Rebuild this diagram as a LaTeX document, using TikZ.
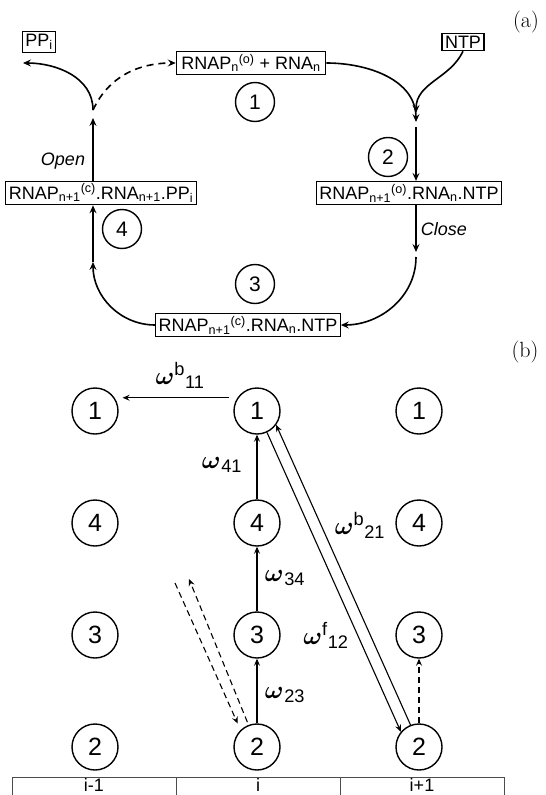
\documentclass[tikz,border=0pt]{standalone}
\usepackage{fontspec}
\usepackage{bm}
\usetikzlibrary{arrows.meta,calc}
\newfontfamily\arialf{Liberation Sans}
\newcommand{\fsz}[1]{\fontsize{#1}{#1}\selectfont}
\newcommand{\lo}[1]{\textsubscript{#1}}
\newcommand{\hi}[1]{\textsuperscript{#1}}
\newcommand{\om}[2]{$\bm{\omega}$\hi{#1}\lo{#2}}
\begin{document}
\begin{tikzpicture}[x=1pt,y=1pt,
  every node/.style={font=\arialf},
  abox/.style={draw, line width=1.1pt, inner xsep=3pt, inner ysep=2.5pt, font=\arialf\fsz{18}},
  acirc/.style={circle, draw, line width=1.4pt, minimum size=39pt, inner sep=0pt, font=\arialf\fsz{21}},
  bcirc/.style={circle, draw, line width=1.4pt, minimum size=46pt, inner sep=0pt, font=\arialf\fsz{25}},
  aarr/.style={line width=1.6pt, -{Stealth[length=8pt,width=7pt,inset=3pt]}},
  barr/.style={line width=1.1pt, -{Stealth[length=7pt,width=6pt,inset=2.5pt]}},
  adash/.style={dash pattern=on 7pt off 5pt},
  bdash/.style={dash pattern=on 6pt off 4pt},
  lab/.style={font=\arialf\fsz{26}},
  itl/.style={font=\arialf\itshape\fsz{18}},
  pl/.style={font=\rmfamily\fsz{22}},
  tline/.style={line width=1pt, draw=black!70},
  ttext/.style={font=\arialf\fsz{18}, anchor=base}
]
\useasboundingbox (0,0) rectangle (546,-795);

% ---------- (a) ----------
\node[pl] (la) at (526,-22) {(a)};
\node[abox] (pp) at (39,-42) {PP\lo{i}};
\node[abox] (ntp) at (463,-42) {NTP};
\node[abox, inner xsep=5pt] (top) at (251,-63) {RNAP\lo{n}\hi{(o)} + RNA\lo{n}};
\node[acirc] (c1) at (255,-102) {1};
\node[abox] (lb) at (101,-193) {RNAP\lo{n+1}\hi{(c)}.RNA\lo{n+1}.PP\lo{i}};
\node[abox] (rb) at (409,-193) {RNAP\lo{n+1}\hi{(o)}.RNA\lo{n}.NTP};
\node[acirc] (c2) at (388,-157) {2};
\node[acirc] (c4) at (122,-229) {4};
\node[acirc] (c3) at (255,-284) {3};
\node[abox] (bb) at (248,-325) {RNAP\lo{n+1}\hi{(c)}.RNA\lo{n}.NTP};
\node[itl] (open) at (63,-161) {Open};
\node[itl] (close) at (444,-229) {Close};

\coordinate (J) at (93,-110);
\coordinate (J1) at (93,-118);
\coordinate (ppa) at (23,-63);
\coordinate (J2) at (93,-262);
\coordinate (K) at (416,-122);
\coordinate (K1) at (416,-113);
\coordinate (K2) at (416,-127);
\coordinate (K3) at (416,-252);
\coordinate (K4) at (416,-257);

\draw[aarr] (J) to[out=90,in=0] (ppa);
\draw[aarr, adash] (J) to[out=65,in=180] (top.west);
\draw[aarr] (lb.north -| J1) -- (J1);
\draw[aarr] (bb.west) to[out=180,in=-90] (J2);
\draw[aarr] (J2) -- (lb.south -| J2);
\draw[aarr] (top.east) to[out=0,in=90] (K);
\draw[aarr] (ntp.south) to[out=-115,in=90] (K1);
\draw[aarr] (K2) -- (rb.north -| K2);
\draw[aarr] (rb.south -| K3) -- (K3);
\draw[aarr] (K4) to[out=-90,in=0] (bb.east);

% ---------- (b) ----------
\node[pl] (lbl) at (525,-352) {(b)};
\node[bcirc] (l1) at (95,-411) {1};
\node[bcirc] (l4) at (95,-523) {4};
\node[bcirc] (l3) at (95,-635) {3};
\node[bcirc] (l2) at (95,-747) {2};
\node[bcirc] (m1) at (257,-411) {1};
\node[bcirc] (m4) at (257,-523) {4};
\node[bcirc] (m3) at (257,-635) {3};
\node[bcirc] (m2) at (257,-747) {2};
\node[bcirc] (r1) at (419,-411) {1};
\node[bcirc] (r4) at (419,-523) {4};
\node[bcirc] (r3) at (419,-635) {3};
\node[bcirc] (r2) at (419,-747) {2};

\draw[barr, shorten <=8pt, shorten >=8pt] (m1.146) -- (l1.34);
\draw[barr] (m4.north) -- (m1.south);
\draw[barr] (m3.north) -- (m4.south);
\draw[barr] (m2.north) -- (m3.south);
\draw[barr] (m1.-65) -- (r2.140);
\draw[barr] (r2.111) -- (m1.-36);
\draw[barr, bdash] (r2.north) -- (r3.south);
\coordinate (dc) at (175,-583);
\coordinate (dd) at (189,-579);
\draw[barr, bdash, shorten >=7pt] (dc) -- (m2.134);
\draw[barr, bdash, shorten <=3pt] (m2.111) -- (dd);

\node[lab] (w11) at (180,-375) {\om{b}{11}};
\node[lab] (w41) at (222,-465) {\om{}{41}};
\node[lab] (w21) at (360,-525) {\om{b}{21}};
\node[lab] (w34) at (285,-578) {\om{}{34}};
\node[lab] (w12) at (326,-635) {\om{f}{12}};
\node[lab] (w23) at (285,-695) {\om{}{23}};

% table
\draw[tline] (12,-800) -- (12,-777) -- (504,-777) -- (504,-800);
\draw[tline] (176,-777) -- (176,-800);
\draw[tline] (340,-777) -- (340,-800);
\node[ttext] (ti1) at (94,-791) {i-1};
\node[ttext] (ti2) at (258,-791) {i};
\node[ttext] (ti3) at (422,-791) {i+1};
\end{tikzpicture}
\end{document}
